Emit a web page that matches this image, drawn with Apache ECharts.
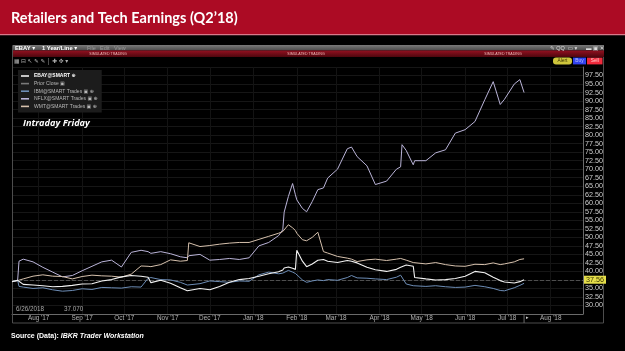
<!DOCTYPE html>
<html><head><meta charset="utf-8">
<script src="https://cdn.jsdelivr.net/npm/echarts@6/dist/echarts.min.js"></script>
<style>html,body{margin:0;padding:0;background:#000;}#c{width:625px;height:351px;}</style>
</head><body><div id="c"></div>
<script>
// ---------- DATA ----------
const dates = ['2017-07-13','2017-07-17','2017-07-18','2017-07-21','2017-07-28',
 '2017-08-04','2017-08-11','2017-08-18','2017-08-25',
 '2017-09-01','2017-09-08','2017-09-15','2017-09-22','2017-09-29',
 '2017-10-06','2017-10-13','2017-10-18','2017-10-20','2017-10-27',
 '2017-11-03','2017-11-10','2017-11-15','2017-11-16','2017-11-24',
 '2017-12-01','2017-12-08','2017-12-15','2017-12-22','2017-12-29',
 '2018-01-05','2018-01-12','2018-01-19','2018-01-22','2018-01-23','2018-01-26','2018-01-29','2018-01-31',
 '2018-02-01','2018-02-05','2018-02-08','2018-02-12','2018-02-16','2018-02-20','2018-02-23',
 '2018-03-02','2018-03-09','2018-03-12','2018-03-16','2018-03-23','2018-03-29',
 '2018-04-06','2018-04-13','2018-04-16','2018-04-17','2018-04-20','2018-04-25','2018-04-26',
 '2018-05-04','2018-05-11','2018-05-18','2018-05-25',
 '2018-06-01','2018-06-08','2018-06-15','2018-06-21','2018-06-26','2018-06-29',
 '2018-07-06','2018-07-10','2018-07-13'];

const nflx = [37.0,37.3,43.0,43.6,42.8,
 41.2,39.8,38.4,38.8,
 40.2,41.5,42.8,43.3,41.3,
 45.6,46.2,45.8,45.3,45.8,
 45.2,44.3,44.0,44.6,45.0,
 43.3,43.5,43.8,43.5,44.0,
 47.5,48.5,50.5,52.2,57.4,62.0,65.8,62.5,
 61.0,58.5,57.5,60.5,64.0,64.5,67.4,
 70.0,76.0,76.5,73.7,71.0,65.5,
 66.5,70.0,70.7,77.2,75.5,71.3,72.5,
 72.5,74.8,75.7,80.6,
 81.6,84.0,90.4,95.7,89.0,90.5,
 95.0,96.3,92.5];

const wmt = [37.0,37.3,37.5,37.8,38.6,
 39.0,38.6,38.5,37.8,
 38.5,38.9,38.7,38.6,38.3,
 39.2,41.6,41.5,41.4,42.0,
 43.4,43.0,43.2,48.4,47.3,
 47.6,48.0,48.3,48.5,48.5,
 49.4,50.3,51.2,51.7,52.2,53.7,52.8,52.0,
 51.2,49.3,49.0,50.0,51.5,45.8,45.4,
 44.4,43.9,43.6,42.9,43.4,43.6,
 43.2,43.6,43.8,43.6,43.3,42.6,42.5,
 42.2,42.6,42.0,41.6,
 41.5,42.1,42.0,42.5,42.0,42.2,
 42.8,43.5,43.7];

const ibm = [37.0,37.4,35.6,35.4,35.0,
 35.2,34.6,34.2,34.4,
 34.9,34.7,35.3,35.2,35.1,
 35.5,35.4,38.0,38.2,37.6,
 37.5,36.8,36.0,36.2,36.4,
 37.2,37.0,36.8,37.2,37.1,
 39.0,39.8,39.3,39.5,40.0,40.3,39.8,39.4,
 39.0,37.5,36.8,37.2,37.5,37.3,37.6,
 37.4,38.2,38.8,38.1,38.0,37.8,
 37.6,38.3,38.9,39.2,36.3,35.8,35.9,
 35.6,35.8,35.5,35.3,
 35.4,35.9,35.5,35.0,34.4,34.3,
 35.2,35.9,36.5];

const ebay = [37.0,37.4,37.5,36.2,36.0,
 35.8,35.5,35.6,35.9,
 36.3,36.4,37.2,37.6,38.4,
 38.8,38.6,38.3,36.7,37.4,
 36.5,35.2,34.3,34.6,35.0,
 34.6,35.6,36.8,37.6,37.9,
 38.6,39.3,39.9,40.4,41.0,41.3,40.9,40.6,
 46.2,43.0,41.4,42.2,43.3,43.5,43.0,
 42.6,43.2,43.0,42.5,41.2,40.5,
 40.0,40.6,41.2,41.5,41.9,41.5,38.2,
 37.8,37.5,37.6,37.9,
 38.6,40.0,39.6,38.3,37.3,36.9,
 36.6,37.0,37.56];

const priorClose = 37.3;
const xStart = '2017-07-13';
const xEnd = '2018-08-24';
const monthNames = ['Jan','Feb','Mar','Apr','May','Jun','Jul','Aug','Sep','Oct','Nov','Dec'];
const seriesNames = ['EBAY@SMART','Prior Close','IBM@SMART Trades','NFLX@SMART Trades','WMT@SMART Trades'];
const legendSuffix = {'EBAY@SMART':' ⊕','Prior Close':' ▣','IBM@SMART Trades':' ▣ ⊕','NFLX@SMART Trades':' ▣ ⊕','WMT@SMART Trades':' ▣ ⊕'};

// ---------- CHART ----------
const ts = s => { const p = s.split('-').map(Number); return new Date(p[0], p[1]-1, p[2]).getTime(); };
const pairs = arr => dates.map((d,i) => [ts(d), arr[i]]);
const DAY = 86400000;
const FONT = '"Liberation Sans", "DejaVu Sans", sans-serif';

const chart = echarts.init(document.getElementById('c'), null, {renderer:'canvas', width:625, height:351});

function txt(id, text, x, y, size, fill, extra) {
  return {type:'text', id:id, silent:true, z:10,
    style:Object.assign({text:text, x:x, y:y, fill:fill, fontSize:size, fontFamily:FONT,
      textVerticalAlign:'middle', verticalAlign:'middle'}, extra || {})};
}
function rect(id, x, y, w, h, fill, r) {
  return {type:'rect', id:id, silent:true, z:5, shape:{x:x,y:y,width:w,height:h,r:r||0}, style:{fill:fill}};
}

const graphics = [
  rect('hdr', 0, 0, 625, 35, '#ac0b24'),
  rect('hdrLine', 0, 34, 625, 1.2, '#d9798a'),
  txt('title', 'Retailers and Tech Earnings (Q2’18)', 11, 18.5, 14.5, '#ffffff', {fontWeight:'bold', fontFamily:'Lato, "Liberation Sans", sans-serif'}),
  {type:'rect', id:'frame', silent:true, z:5, shape:{x:12.5,y:45.5,width:591,height:277.5}, style:{fill:'none', stroke:'#4d4d4d', lineWidth:1}},
  rect('greyBar', 13, 45, 591, 5.5, new echarts.graphic.LinearGradient(0,0,0,1,[{offset:0,color:'#7a7a7a'},{offset:1,color:'#4a4a4a'}])),
  rect('redBar', 13, 50.5, 591, 6.5, new echarts.graphic.LinearGradient(0,0,0,1,[{offset:0,color:'#931020'},{offset:1,color:'#4e070e'}])),
  txt('t1', 'EBAY ▾', 15, 48, 5.8, '#ffffff', {fontWeight:'bold'}),
  txt('t2', '1 Year/Line ▾', 42, 48, 5.8, '#ffffff', {fontWeight:'bold'}),
  txt('t3', 'File', 87, 48, 5.5, '#9a9a9a'),
  txt('t4', 'Edit', 100, 48, 5.5, '#9a9a9a'),
  txt('t5', 'View', 114, 48, 5.5, '#9a9a9a'),
  txt('t6', '✎ QQ  ▭ ▾', 550, 48, 5.5, '#dddddd'),
  txt('t7', '▬ ▣ ✕', 586, 48, 5.5, '#dddddd'),
  txt('s1', 'SIMULATED TRADING', 108, 54.2, 3.6, '#f2b8b8', {textAlign:'center', align:'center'}),
  txt('s2', 'SIMULATED TRADING', 306, 54.2, 3.6, '#f2b8b8', {textAlign:'center', align:'center'}),
  txt('s3', 'SIMULATED TRADING', 503, 54.2, 3.6, '#f2b8b8', {textAlign:'center', align:'center'}),
  txt('tools', '▦ ⊟ ↖ ✎ ✎ │ ✚ ✥ ▾', 14, 61, 5.8, '#b0b0b0'),
  rect('alertB', 553, 57.6, 19, 6.8, '#cfc63c', 3),
  txt('alertT', 'Alert', 562.5, 61, 4.8, '#3a3300', {textAlign:'center', align:'center'}),
  rect('buyB', 573, 57.6, 13, 6.8, '#3243ef'),
  txt('buyT', 'Buy', 579.5, 61, 4.8, '#b9c3ff', {textAlign:'center', align:'center'}),
  rect('sellB', 587, 57.6, 15.5, 6.8, '#ef2a3c'),
  txt('sellT', 'Sell', 594.7, 61, 4.8, '#ffd0d0', {textAlign:'center', align:'center'}),
  txt('intraday', 'Intraday Friday', 23, 123, 9.2, '#ffffff', {fontWeight:'bold', fontStyle:'italic', fontFamily:'"Open Sans", "Liberation Sans", sans-serif'}),
  txt('rd1', '6/26/2018', 16, 309, 6.3, '#a8a8a8'),
  txt('rd2', '37.070', 64, 309, 6.3, '#a8a8a8'),
  {type:'text', id:'footer', silent:true, z:10, style:{
    text:'{a|Source (Data): }{b|IBKR Trader Workstation}', x:11, y:336.5,
    textVerticalAlign:'middle', verticalAlign:'middle',
    rich:{a:{fontSize:7, fontWeight:'bold', fontFamily:FONT, fill:'#ffffff', color:'#ffffff'},
          b:{fontSize:7, fontWeight:'bold', fontStyle:'italic', fontFamily:FONT, fill:'#ffffff', color:'#ffffff'}}}}
];

const lineSeries = (name, arr, color, width, z) => ({
  name:name, type:'line', data:pairs(arr), symbol:'none', showSymbol:false, z:z,
  lineStyle:{width:width, color:color}, itemStyle:{color:color}, emphasis:{disabled:true}
});

const ebaySeries = lineSeries('EBAY@SMART', ebay, '#f2f2f2', 1.1, 6);
ebaySeries.markLine = {silent:true, symbol:['none','none'], animation:false,
  lineStyle:{color:'rgba(0,0,0,0)', width:0.1, type:'solid'},
  emphasis:{disabled:true},
  label:{show:true, position:'end', distance:1, formatter: p => Number(p.value).toFixed(2),
    backgroundColor:'#e4dd4a', color:'#3c3800', fontSize:7.2, fontFamily:FONT, padding:[1,2,0,2], opacity:1},
  data:[{yAxis: ebay[ebay.length-1]}]};

const option = {
  backgroundColor:'#000000',
  animation:false,
  textStyle:{fontFamily:FONT},
  grid:{left:12, right:42, top:67, bottom:37, outerBoundsMode:'none'},
  xAxis:{
    type:'time', min:ts(xStart), max:ts(xEnd), splitNumber:13,
    minInterval:28*DAY, maxInterval:31*DAY,
    axisLine:{show:true, lineStyle:{color:'#6a6a6a', width:1}},
    axisTick:{show:false},
    axisLabel:{color:'#b0b0b0', fontSize:6.4, margin:1, fontFamily:FONT,
      formatter:(v) => { const d = new Date(v); if (d.getDate() !== 1) return ''; return monthNames[d.getMonth()] + " '" + String(d.getFullYear()).slice(2); }},
    splitLine:{show:true, lineStyle:{color:'#131313', width:1}}
  },
  yAxis:{
    type:'value', position:'right', min:27.5, max:100, interval:2.5, scale:true,
    axisLine:{show:true, lineStyle:{color:'#6a6a6a', width:1}},
    axisTick:{show:false},
    axisLabel:{color:'#cfcfcf', fontSize:7.2, margin:2, fontFamily:FONT,
      formatter:(v) => (v <= 27.5 || v >= 100) ? '' : v.toFixed(2)},
    splitLine:{show:true, lineStyle:{color:'#161616', width:1}}
  },
  legend:{
    orient:'vertical', left:18, top:70, padding:[3,4,3,3], itemGap:1.6,
    itemWidth:8, itemHeight:1.6, icon:'rect', backgroundColor:'#1c1c1c',
    selectedMode:false,
    textStyle:{color:'#b8b8b8', fontSize:5, fontFamily:FONT, lineHeight:6},
    formatter:(n) => n + legendSuffix[n],
    data:[{name:seriesNames[0], textStyle:{color:'#ffffff', fontWeight:'bold'}}, seriesNames[1], seriesNames[2], seriesNames[3], seriesNames[4]]
  },
  graphic:{elements:graphics},
  series:[
    lineSeries(seriesNames[3], nflx, '#bab4d8', 1, 3),
    lineSeries(seriesNames[4], wmt, '#d6c1ad', 1, 4),
    lineSeries(seriesNames[2], ibm, '#6d8db6', 1, 5),
    {name:seriesNames[1], type:'line', data:[], symbol:'none', itemStyle:{color:'#7a7a7a'}, lineStyle:{color:'#7a7a7a', type:'dashed'},
      markLine:{silent:true, symbol:['none','none'], animation:false, label:{show:false},
        lineStyle:{color:'#4e4e4e', type:'dashed', width:1}, data:[{yAxis: priorClose}]}},
    ebaySeries
  ]
};
chart.setOption(option);

// current-date marker below the axis, placed through the axis scale
const lastPx = chart.convertToPixel({xAxisIndex:0}, ts(dates[dates.length-1]));
const gridBottomPx = chart.convertToPixel({yAxisIndex:0}, 27.5);
chart.setOption({graphic:{elements:[
  {type:'line', id:'nowLine', silent:true, z:10, shape:{x1:lastPx, y1:gridBottomPx, x2:lastPx, y2:323}, style:{stroke:'#6a6a6a', lineWidth:1}},
  txt('nowMark', '▸', lastPx + 2, 318, 5, '#cccccc')
]}});
</script></body></html>
